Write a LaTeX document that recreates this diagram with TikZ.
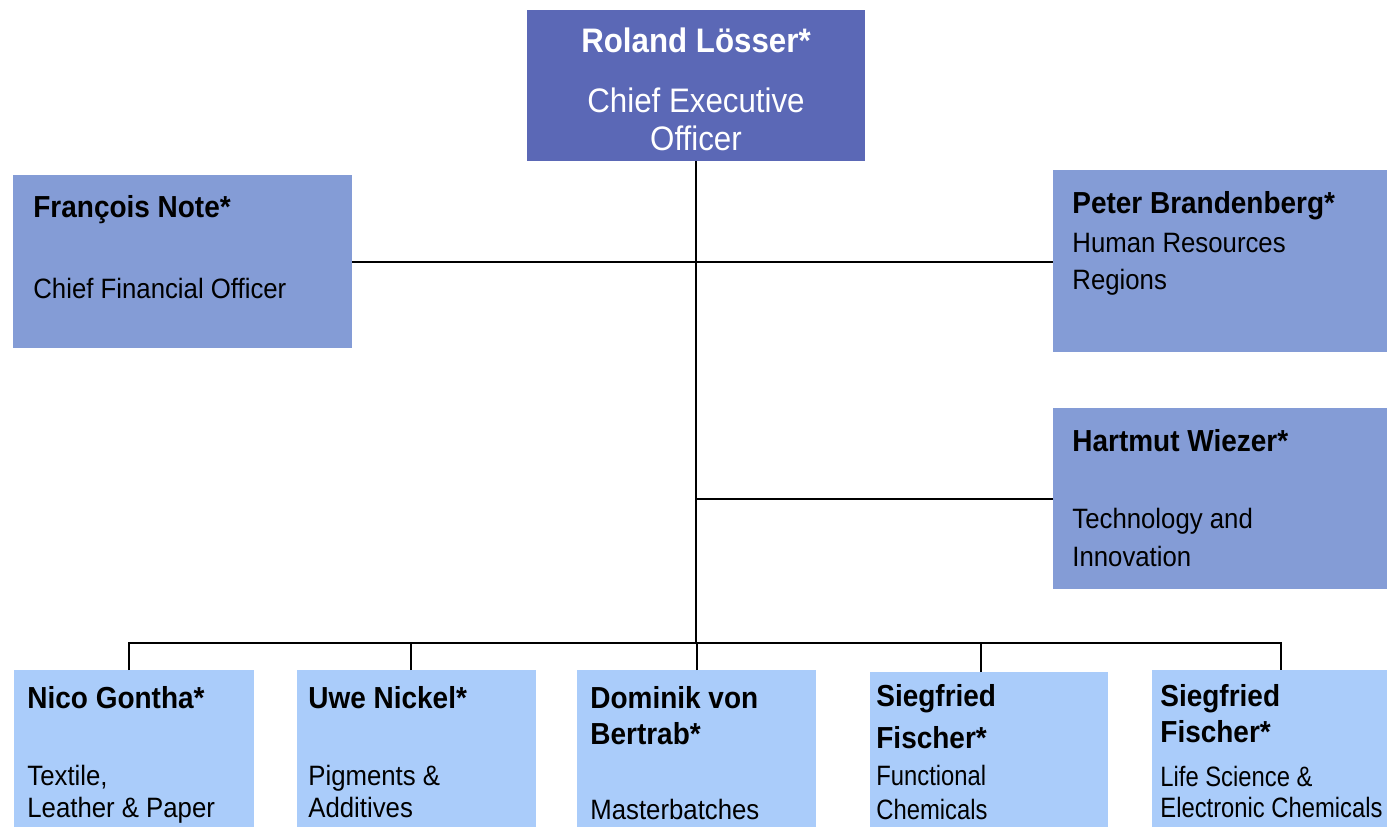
\documentclass[tikz,border=0pt]{standalone}
\usepackage{fontspec}
\setmainfont{Liberation Sans}[FakeStretch=0.92]
\newfontfamily\narrowfont{Liberation Sans}[FakeStretch=0.85]
\definecolor{ceoblue}{RGB}{91,104,182}
\definecolor{boardblue}{RGB}{132,156,214}
\definecolor{unitblue}{RGB}{170,204,250}

\begin{document}
\begin{tikzpicture}[x=0.5pt,y=-0.5pt,
  box/.style={inner sep=0pt,outer sep=0pt,anchor=north west},
  pname/.style={anchor=base west,inner sep=0pt,font=\bfseries\fontsize{15.2}{18}\selectfont},
  prole/.style={anchor=base west,inner sep=0pt,font=\fontsize{14}{17}\selectfont},
  nrole/.style={anchor=base west,inner sep=0pt,font=\narrowfont\fontsize{14}{17}\selectfont},
  link/.style={line width=1pt}]
  \useasboundingbox (0,0) rectangle (1387,827);
  % boxes
  \node[box,fill=ceoblue,minimum width=169pt,minimum height=75.5pt] (ceo) at (527,10) {};
  \node[box,fill=boardblue,minimum width=169.5pt,minimum height=86.5pt] (cfo) at (13,175) {};
  \node[box,fill=boardblue,minimum width=167pt,minimum height=91pt] (hr) at (1053,170) {};
  \node[box,fill=boardblue,minimum width=167pt,minimum height=90.5pt] (tech) at (1053,408) {};
  \node[box,fill=unitblue,minimum width=120pt,minimum height=78.5pt] (nico) at (14,670) {};
  \node[box,fill=unitblue,minimum width=119.5pt,minimum height=78.5pt] (uwe) at (297,670) {};
  \node[box,fill=unitblue,minimum width=119.5pt,minimum height=78.5pt] (dom) at (577,670) {};
  \node[box,fill=unitblue,minimum width=119pt,minimum height=77.5pt] (sfa) at (870,672) {};
  \node[box,fill=unitblue,minimum width=117.5pt,minimum height=78.5pt] (sfb) at (1152,670) {};
  % connectors
  \coordinate (bus) at (697,643);
  \draw[link] (ceo.south) -- (ceo.south |- bus);
  \draw[link] (cfo.east) -- (cfo.east -| hr.west);
  \draw[link] (tech.west) -- (tech.west -| ceo.south);
  \draw[link] ([xshift=-2.5pt]nico.north) |- (bus) -| ([xshift=5.75pt]sfb.north);
  \draw[link] ([xshift=-2.75pt]uwe.north) -- ([xshift=-2.75pt]uwe.north |- bus);
  \draw[link] (dom.north) -- (dom.north |- bus);
  \draw[link] ([xshift=-4pt]sfa.north) -- ([xshift=-4pt]sfa.north |- bus);
  % texts
  \node[anchor=base,inner sep=0pt,text=white,font=\bfseries\fontsize{17}{21}\selectfont] (ceo-n) at (696,52) {Roland Lösser*};
  \node[anchor=base,inner sep=0pt,text=white,font=\fontsize{17}{20}\selectfont] (ceo-r1) at (696,112) {Chief Executive};
  \node[anchor=base,inner sep=0pt,text=white,font=\fontsize{17}{20}\selectfont] (ceo-r2) at (696,150) {Officer};
  \node[pname] (cfo-n) at (33,217) {François Note*};
  \node[prole] (cfo-r) at (33,298) {Chief Financial Officer};
  \node[pname] (hr-n) at (1072,213) {Peter Brandenberg*};
  \node[prole] (hr-r1) at (1072,252) {Human Resources};
  \node[prole] (hr-r2) at (1072,289) {Regions};
  \node[pname] (tech-n) at (1072,451) {Hartmut Wiezer*};
  \node[prole] (tech-r1) at (1072,528) {Technology and};
  \node[prole] (tech-r2) at (1072,566) {Innovation};
  \node[pname] (nico-n) at (27,708) {Nico Gontha*};
  \node[prole] (nico-r1) at (27,785) {Textile,};
  \node[prole] (nico-r2) at (27,817) {Leather \& Paper};
  \node[pname] (uwe-n) at (308,708) {Uwe Nickel*};
  \node[prole] (uwe-r1) at (308,785) {Pigments \&};
  \node[prole] (uwe-r2) at (308,817) {Additives};
  \node[pname] (dom-n1) at (590,708) {Dominik von};
  \node[pname] (dom-n2) at (590,744) {Bertrab*};
  \node[prole] (dom-r) at (590,819) {Masterbatches};
  \node[pname] (sfa-n1) at (876,706) {Siegfried};
  \node[pname] (sfa-n2) at (876,748) {Fischer*};
  \node[nrole] (sfa-r1) at (876,785) {Functional};
  \node[nrole] (sfa-r2) at (876,819) {Chemicals};
  \node[pname] (sfb-n1) at (1160,706) {Siegfried};
  \node[pname] (sfb-n2) at (1160,742) {Fischer*};
  \node[nrole] (sfb-r1) at (1160,786) {Life Science \&};
  \node[nrole] (sfb-r2) at (1160,817) {Electronic Chemicals};
\end{tikzpicture}
\end{document}
